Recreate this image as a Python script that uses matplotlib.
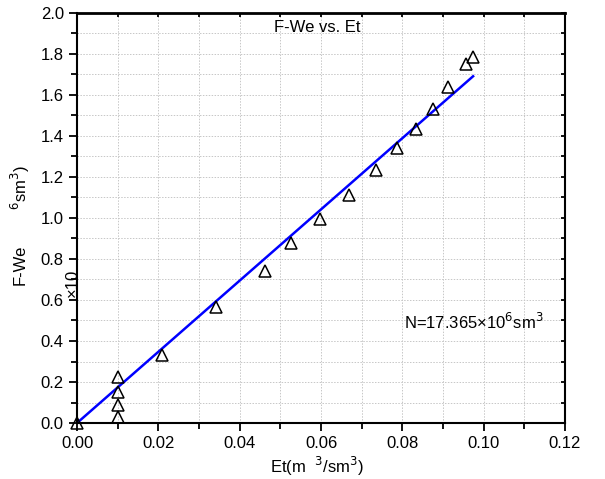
import numpy as np
import matplotlib
matplotlib.use("Agg")
import matplotlib.pyplot as plt
from matplotlib.ticker import MultipleLocator

plt.rcParams['font.family'] = ['Liberation Sans', 'DejaVu Sans']

# Data
et = [0.0, 0.01, 0.01, 0.01, 0.01, 0.0208, 0.0342, 0.0462, 0.0526, 0.0598,
      0.0669, 0.0734, 0.0788, 0.0833, 0.0875, 0.0913, 0.0957, 0.0974]
fwe = [0.0, 0.03, 0.089, 0.149, 0.224, 0.332, 0.564, 0.742, 0.876, 0.995,
       1.11, 1.234, 1.341, 1.436, 1.533, 1.638, 1.749, 1.784]
slope = 17.365
fit_x = [0.0, 0.0974]

fig = plt.figure(figsize=(6.05, 4.79), dpi=100)
ax = fig.add_axes([0.1273, 0.1169, 0.8066, 0.856])

fx = np.array(fit_x)
ax.plot(fx, slope * fx, color='blue', lw=1.8, zorder=2)
ax.plot(et, fwe, linestyle='none', marker='^', markersize=8.5,
        markerfacecolor='none', markeredgecolor='black', markeredgewidth=1.1,
        zorder=3, clip_on=False)

ax.set_xlim(0, 0.12)
ax.set_ylim(0, 2.0)
ax.xaxis.set_major_locator(MultipleLocator(0.02))
ax.xaxis.set_minor_locator(MultipleLocator(0.01))
ax.yaxis.set_major_locator(MultipleLocator(0.2))
ax.yaxis.set_minor_locator(MultipleLocator(0.1))
ax.xaxis.set_major_formatter(plt.FuncFormatter(lambda v, p: '%.2f' % v))
ax.yaxis.set_major_formatter(plt.FuncFormatter(lambda v, p: '%.1f' % v))

ax.grid(which='both', color='0.78', linestyle=(0, (1.5, 1.5)), linewidth=0.7)
ax.set_axisbelow(True)

ax.tick_params(which='both', direction='out', width=1.3, labelsize=12,
               top=True, right=True, labeltop=False, labelright=False)
ax.tick_params(which='major', length=6)
ax.tick_params(which='minor', length=4)
for s in ax.spines.values():
    s.set_linewidth(1.5)
ax.spines['top'].set_linewidth(2)
# top and right ticks point inward
for t in ax.xaxis.get_major_ticks() + ax.xaxis.get_minor_ticks():
    t.tick2line.set_marker(3)
    t.tick2line.set_markersize(3)
for t in ax.yaxis.get_major_ticks() + ax.yaxis.get_minor_ticks():
    t.tick2line.set_marker(0)
    t.tick2line.set_markersize(3)

ax.text(0.059, 0.965, 'F-We vs. Et', transform=ax.get_xaxis_transform(),
        ha='center', va='center', fontsize=12)
ax.text(0.0805, 0.493, r'N=17.365×10$^{6}$sm$^{3}$', ha='left', va='center',
        fontsize=12)

fig.text(317 / 605, 1 - 466 / 479, r'Et(m  $^{3}$/sm$^{3}$)', ha='center',
         va='center', fontsize=12)
fig.text(20 / 605, 1 - 265 / 479, 'F-We', rotation=90, ha='center',
         va='center', fontsize=12)
fig.text(20 / 605, 1 - 188 / 479, r'$^{6}$sm$^{3}$)', rotation=90, ha='center',
         va='center', fontsize=12)
fig.text(72 / 605, 1 - 283 / 479, '×10', rotation=90, ha='center',
         va='center', fontsize=12)

fig.savefig('out.png', dpi=100)
